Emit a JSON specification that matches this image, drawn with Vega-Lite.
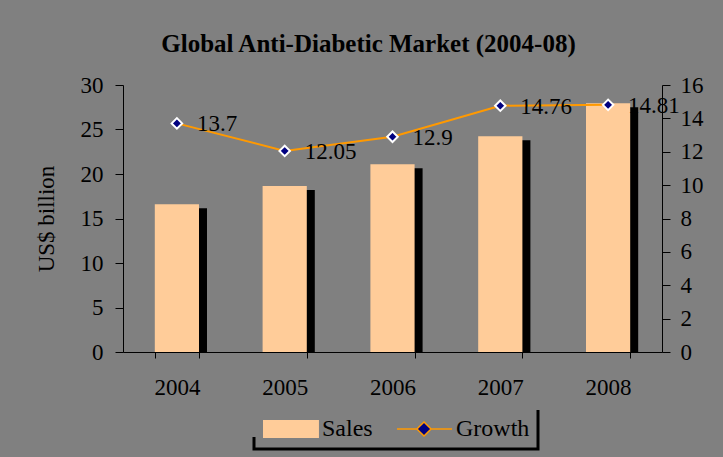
{
  "$schema": "https://vega.github.io/schema/vega-lite/v6.json",
  "width": 539,
  "height": 267,
  "autosize": "none",
  "padding": {"left": 123, "top": 85, "right": 61, "bottom": 105},
  "background": "#808080",
  "title": {"text": "Global Anti-Diabetic Market (2004-08)", "font": "Liberation Serif", "fontSize": 25, "fontWeight": "bold", "color": "black", "offset": 17, "dx": -24, "anchor": "middle"},
  "data": {"values": [
    {"year": "2004", "sales": 16.6, "growth": 13.7},
    {"year": "2005", "sales": 18.65, "growth": 12.05},
    {"year": "2006", "sales": 21.1, "growth": 12.9},
    {"year": "2007", "sales": 24.25, "growth": 14.76},
    {"year": "2008", "sales": 27.95, "growth": 14.81}
  ]},
  "config": {
    "view": {"stroke": null},
    "axis": {"labelFont": "Liberation Serif", "labelFontSize": 23, "labelColor": "black", "titleFont": "Liberation Serif", "titleFontSize": 23, "titleColor": "black", "titleFontWeight": "normal", "domainColor": "black", "tickColor": "black", "grid": false}
  },
  "encoding": {
    "x": {"field": "year", "type": "nominal", "scale": {"paddingInner": 0.59, "paddingOuter": 0.295},
      "axis": {"title": null, "labelAngle": 0, "tickBand": "extent", "tickSize": 6, "labelPadding": 18}}
  },
  "layer": [
    {"encoding": {"y": {"field": "sales", "type": "quantitative", "scale": {"domain": [0, 30]},
         "axis": {"title": "US$ billion", "values": [0, 5, 10, 15, 20, 25, 30], "tickSize": 8, "labelPadding": 12, "titlePadding": 22}}},
     "layer": [
      {"mark": {"type": "bar", "color": "black", "xOffset": 8, "yOffset": 4, "y2Offset": 0},
       "encoding": {"y2": {"datum": 0}}},
      {"mark": {"type": "bar"},
       "encoding": {
         "color": {"datum": "Sales", "type": "nominal", "scale": {"domain": ["Sales", "Growth"], "range": ["#FFCC99", "#000080"]},
           "legend": {"orient": "none", "legendX": 131, "legendY": 320, "direction": "horizontal", "title": null,
             "labelFont": "Liberation Serif", "labelFontSize": 24, "labelColor": "black", "symbolSize": 900,
             "labelOffset": 28, "columnPadding": 21, "padding": 8, "strokeColor": "black",
             "encode": {
               "legend": {"update": {"strokeWidth": {"value": 3}, "strokeDash": {"value": [0, 289, 335, 46]}}},
               "symbols": {"update": {
               "shape": {"signal": "datum.value === 'Sales' ? 'M-1,-0.6H2.73V0.6H-1Z' : 'M-1,0H0.33M1.27,0H2.67M0.8,-0.47L1.27,0L0.8,0.47L0.33,0Z'"},
               "stroke": [{"test": "datum.value === 'Sales'", "value": "transparent"}, {"value": "#FF9900"}],
               "strokeWidth": {"value": 1.5},
               "opacity": {"value": 1},
               "fillOpacity": {"value": 1}
             }}}}}}}
    ]},
    {"encoding": {"y": {"field": "growth", "type": "quantitative", "scale": {"domain": [0, 16]},
         "axis": {"orient": "right", "title": null, "values": [0, 2, 4, 6, 8, 10, 12, 14, 16], "tickSize": 8, "labelPadding": 10}}},
     "layer": [
      {"mark": {"type": "line", "strokeWidth": 2, "color": "#FF9900"}},
      {"mark": {"type": "point", "shape": "diamond", "filled": true, "stroke": "white", "strokeWidth": 2, "size": 110, "opacity": 1},
       "encoding": {"color": {"datum": "Growth", "type": "nominal"}}},
      {"mark": {"type": "text", "align": "left", "baseline": "middle", "dx": 20, "dy": 1, "font": "Liberation Serif", "fontSize": 23, "color": "black"},
       "encoding": {"text": {"field": "growth", "type": "nominal"}}}
    ]}
  ],
  "resolve": {"scale": {"y": "independent"}}
}
